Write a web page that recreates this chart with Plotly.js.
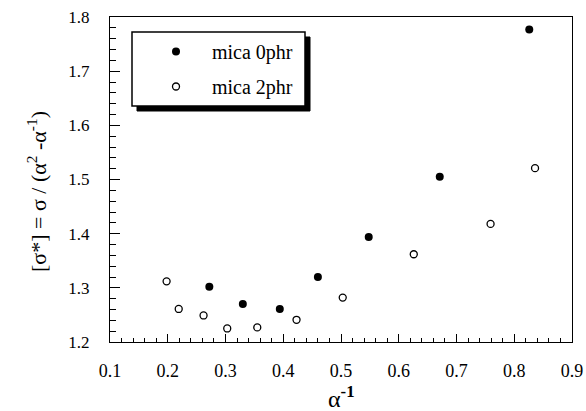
<!DOCTYPE html>
<html>
<head>
<meta charset="utf-8">
<script src="https://cdn.plot.ly/plotly-3.0.1.min.js"></script>
<style>html,body{margin:0;padding:0;background:#fff;}#chart{width:586px;height:411px;}</style>
</head>
<body>
<div id="chart"></div>
<script>
// Data
const mica0_x = [0.272, 0.330, 0.394, 0.460, 0.548, 0.671, 0.826];
const mica0_y = [1.302, 1.270, 1.261, 1.320, 1.394, 1.505, 1.777];
const mica2_x = [0.198, 0.219, 0.262, 0.303, 0.355, 0.423, 0.503, 0.626, 0.759, 0.836];
const mica2_y = [1.312, 1.261, 1.249, 1.225, 1.227, 1.241, 1.282, 1.362, 1.418, 1.521];
const seriesNames = ['mica 0phr', 'mica 2phr'];
const xTitle = 'α<sup><b>-1</b></sup>';
const yTitle = '[σ*] = σ / (α<sup>2</sup> -α<sup>-1</sup>)';

const W = 586, H = 411;
const L = 110, R = 14, T = 17, B = 69;
const pw = W - L - R, ph = H - T - B;
const px = v => (v - L) / pw;
const py = v => (H - B - v) / ph;
const FONT = 'Liberation Serif, Times New Roman, serif';

const traces = [
  {x: mica0_x, y: mica0_y, name: seriesNames[0], mode: 'markers', type: 'scatter',
   legendgroup: 'a',
   marker: {symbol: 'circle', size: 8, color: '#000'}},
  {x: mica2_x, y: mica2_y, name: seriesNames[1], mode: 'markers', type: 'scatter',
   legendgroup: 'b',
   marker: {symbol: 'circle-open', size: 7, color: '#000', line: {width: 1.3, color: '#000'}}}
];

const layout = {
  width: W, height: H,
  margin: {l: L, r: R, t: T, b: B},
  paper_bgcolor: '#fff', plot_bgcolor: '#fff',
  font: {family: FONT, color: '#000', size: 16},
  showlegend: true,
  legend: {x: px(140), y: py(32), xanchor: 'left', yanchor: 'top',
           bgcolor: 'rgba(0,0,0,0)', borderwidth: 0, itemwidth: 62,
           tracegroupgap: 6, traceorder: 'grouped',
           font: {family: FONT, size: 20, color: '#000'}},
  xaxis: {range: [0.1, 0.9], dtick: 0.1, tick0: 0.1, tickformat: '.1f',
          showgrid: false, zeroline: false, showline: true, linecolor: '#000', linewidth: 1,
          mirror: true, ticks: 'inside', ticklen: 8, tickwidth: 1, tickcolor: '#000',
          minor: {dtick: 0.02, ticks: 'inside', ticklen: 4, tickwidth: 1, tickcolor: '#000', showgrid: false},
          tickfont: {family: FONT, size: 18}, ticklabelstandoff: 12},
  yaxis: {range: [1.2, 1.8], dtick: 0.1, tickformat: '.1f',
          showgrid: false, zeroline: false, showline: true, linecolor: '#000', linewidth: 1,
          mirror: true, ticks: 'inside', ticklen: 10, tickwidth: 1, tickcolor: '#000',
          minor: {dtick: 0.02, ticks: 'inside', ticklen: 6, tickwidth: 1, tickcolor: '#000', showgrid: false},
          tickfont: {family: FONT, size: 17}, ticklabelstandoff: 16},
  annotations: [
    {text: yTitle, xref: 'paper', yref: 'paper', x: px(37), y: py(192),
     xanchor: 'center', yanchor: 'middle', textangle: -90, showarrow: false,
     font: {family: FONT, size: 22, color: '#000'}},
    {text: xTitle, xref: 'paper', yref: 'paper', x: px(341), y: py(397),
     xanchor: 'center', yanchor: 'middle', showarrow: false,
     font: {family: FONT, size: 24, color: '#000'}}
  ],
  shapes: [
    {type: 'rect', xref: 'paper', yref: 'paper', layer: 'above',
     x0: px(137), x1: px(310), y0: py(37), y1: py(111),
     fillcolor: '#000', line: {color: '#000', width: 1}},
    {type: 'rect', xref: 'paper', yref: 'paper', layer: 'above',
     x0: px(132), x1: px(305), y0: py(32), y1: py(106),
     fillcolor: '#fff', line: {color: '#000', width: 1.5}}
  ]
};

Plotly.newPlot('chart', traces, layout, {displayModeBar: false, staticPlot: true});
</script>
</body>
</html>
